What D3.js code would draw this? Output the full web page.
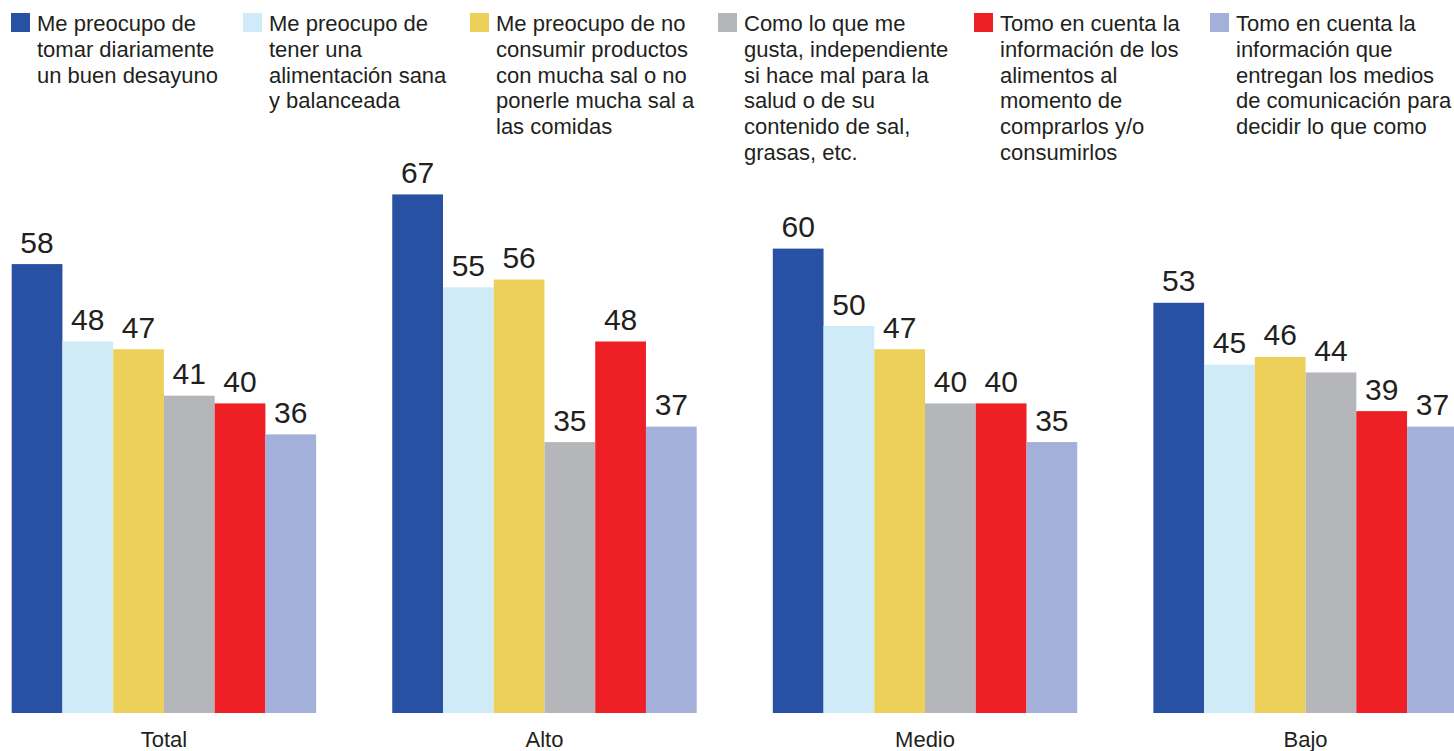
<!DOCTYPE html>
<html>
<head>
<meta charset="utf-8">
<script src="https://cdn.jsdelivr.net/npm/d3@7"></script>
<style>
  body { margin: 0; background: #fff; }
  text { font-family: "Liberation Sans", Arial, sans-serif; fill: #231f20; }
</style>
</head>
<body>
<div id="chart"></div>
<script>
// categories and series
var groups = ["Total", "Alto", "Medio", "Bajo"];
var seriesNames = [
    ["Me preocupo de", "tomar diariamente", "un buen desayuno"],
    ["Me preocupo de", "tener una", "alimentación sana", "y balanceada"],
    ["Me preocupo de no", "consumir productos", "con mucha sal o no", "ponerle mucha sal a", "las comidas"],
    ["Como lo que me", "gusta, independiente", "si hace mal para la", "salud o de su", "contenido de sal,", "grasas, etc."],
    ["Tomo en cuenta la", "información de los", "alimentos al", "momento de", "comprarlos y/o", "consumirlos"],
    ["Tomo en cuenta la", "información que", "entregan los medios", "de comunicación para", "decidir lo que como"]
];
// values per group, one per series
var total = [58, 48, 47, 41, 40, 36];
var alto  = [67, 55, 56, 35, 48, 37];
var medio = [60, 50, 47, 40, 40, 35];
var bajo  = [53, 45, 46, 44, 39, 37];
var values = [total, alto, medio, bajo];

var colors = ["#2851a3", "#d0ebf8", "#edd05a", "#b5b6b9", "#ee1f25", "#a3b0d9"];
var legendX = [11, 243, 470, 718, 974, 1210];

var width = 1454, height = 751;
var baseline = 713;

var svg = d3.select("#chart").append("svg")
    .attr("width", width)
    .attr("height", height);

/* Scales */
var x0 = d3.scaleBand()
    .domain(groups)
    .range([11.7, 1457.8])
    .paddingInner(0.2)
    .paddingOuter(0);

var x1 = d3.scaleBand()
    .domain(d3.range(seriesNames.length))
    .range([0, x0.bandwidth()])
    .padding(0);

var y = d3.scaleLinear()
    .domain([0, 100])
    .range([baseline, baseline - 774]);

/* Bars */
var data = groups.map((g, gi) => ({ group: g, vals: values[gi] }));

var groupSel = svg.append("g").attr("class", "bars")
    .selectAll(".group")
    .data(data).enter()
    .append("g")
    .attr("class", "group")
    .attr("transform", d => `translate(${x0(d.group)},0)`);

groupSel.selectAll("rect")
    .data(d => d.vals).enter()
    .append("rect")
    .attr("x", (d, i) => x1(i))
    .attr("y", d => y(d))
    .attr("width", x1.bandwidth())
    .attr("height", d => y(0) - y(d))
    .style("fill", (d, i) => colors[i]);

groupSel.selectAll(".value")
    .data(d => d.vals).enter()
    .append("text")
    .attr("class", "value")
    .attr("x", (d, i) => x1(i) + x1.bandwidth() / 2)
    .attr("y", d => y(d) - 11.5)
    .attr("text-anchor", "middle")
    .style("font-size", "30px")
    .text(d => d);

/* Category axis labels */
var xAxis = d3.axisBottom(x0).tickSize(0).tickPadding(0);
var axisG = svg.append("g")
    .attr("class", "x axis")
    .attr("transform", `translate(0, ${baseline})`)
    .call(xAxis);
axisG.select(".domain").remove();
axisG.selectAll("text")
    .attr("y", 34)
    .attr("dy", 0)
    .style("font-size", "22px")
    .style("font-family", "'Liberation Sans', Arial, sans-serif")
    .style("fill", "#231f20");

/* Legend */
var legend = svg.append("g").attr("class", "legend")
    .selectAll(".item")
    .data(seriesNames).enter()
    .append("g")
    .attr("class", "item")
    .attr("transform", (d, i) => `translate(${legendX[i]}, 0)`);

legend.append("rect")
    .attr("x", 0)
    .attr("y", 13)
    .attr("width", 19)
    .attr("height", 19)
    .style("fill", (d, i) => colors[i]);

legend.append("text")
    .attr("x", 26)
    .attr("y", 31)
    .style("font-size", "22px")
    .selectAll("tspan")
    .data(d => d).enter()
    .append("tspan")
    .attr("x", 26)
    .attr("dy", (d, i) => i === 0 ? 0 : 25.8)
    .text(d => d);
</script>
</body>
</html>
